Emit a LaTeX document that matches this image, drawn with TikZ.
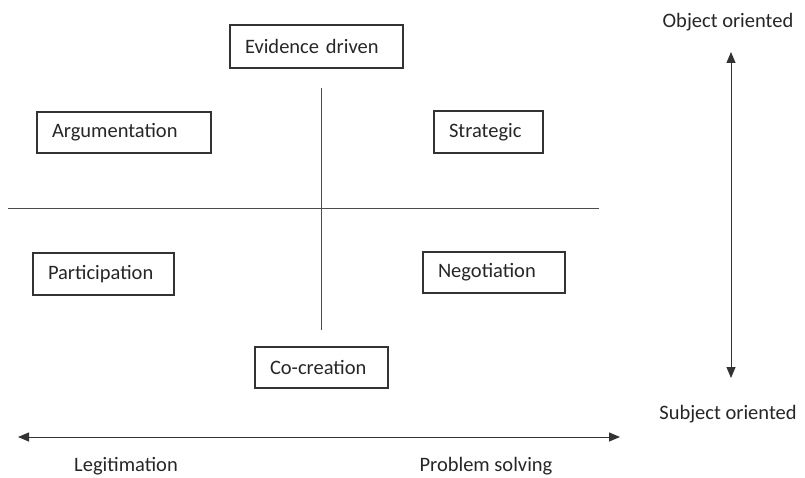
\documentclass[tikz,border=0pt]{standalone}
\usepackage{fontspec}
\setmainfont{Carlito}
\usetikzlibrary{arrows.meta}
\begin{document}
\begin{tikzpicture}[x=1pt,y=-1pt,
  lbl/.style={font=\fontsize{20.5}{24}\selectfont, text=black!85},
  box/.style={lbl, draw=black!80, line width=1.2pt, minimum height=41pt,
    inner xsep=15pt, inner ysep=0pt, align=left},
  axis/.style={draw=black!70, line width=1pt},
  darrow/.style={draw=black!80, line width=1pt, {Triangle[length=11pt,width=9pt]}-{Triangle[length=11pt,width=9pt]}}]
\useasboundingbox (0,0) rectangle (805,478);
\node[box, text width=143pt, minimum height=43pt] (ev) at (316.5,46.5) {\mbox{Evidence driven}};
\node[box, text width=144pt] (arg) at (124,132.5) {\mbox{Argumentation}};
\node[box, text width=79pt, minimum height=42pt] (str) at (488.5,132) {\mbox{Strategic}};
\node[box, text width=111pt, minimum height=42pt] (par) at (103.5,274) {\mbox{Participation}};
\node[box, text width=112pt] (neg) at (494,272.5) {\mbox{Negotiation}};
\node[box, text width=103pt] (co) at (321.5,367.5) {\mbox{Co-creation}};
\coordinate (vt) at (321.5,88);
\coordinate (vb) at (321.5,330);
\coordinate (hl) at (8,209);
\coordinate (hr) at (599,209);
\draw[axis] (vt) -- (vb);
\draw[axis] (hl) -- (hr);
\node[lbl] (obj) at (728,22) {Object oriented};
\node[lbl] (sub) at (728,414) {Subject oriented};
\coordinate (at) at (731,52);
\coordinate (ab) at (731,378);
\draw[darrow] (at) -- (ab);
\coordinate (al) at (18,437);
\coordinate (ar) at (620,437);
\draw[darrow] (al) -- (ar);
\node[lbl] (leg) at (126,466) {Legitimation};
\node[lbl] (prob) at (486,466) {Problem solving};
\end{tikzpicture}
\end{document}
